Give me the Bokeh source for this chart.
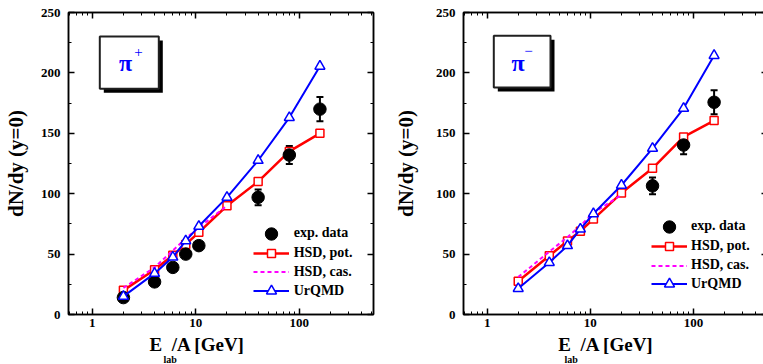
import math
from bokeh.plotting import figure
from bokeh.models import (Range1d, LinearAxis, LogAxis, LogTicker, SingleIntervalTicker,
                          Whisker, TeeHead, ColumnDataSource, Legend, LegendItem, Label,
                          BoxAnnotation, CustomJSTickFormatter, Title)
from bokeh.layouts import row
from bokeh.embed import file_html
from bokeh.resources import INLINE

# ---------------- data ----------------
energy = [2, 4, 6, 8, 10.7, 20, 40, 80, 158]
cas_energy = [2, 4, 6, 8, 10.7, 20]

pip_exp_e = [2, 4, 6, 8, 10.7, 40, 80, 158]
pip_exp = [14, 27, 39, 50, 57, 97, 132, 170]
pip_err = [2, 2, 2, 2, 2, 6.5, 7.5, 10]
pip_hsd_pot = [20, 37, 49, 58, 68, 90, 110, 135, 150]
pip_hsd_cas = [22, 39, 53, 63, 72, 90]
pip_urqmd = [15, 34, 47.5, 61, 73, 97, 127.5, 163, 205.5]

pim_exp_e = [40, 80, 158]
pim_exp = [106.5, 140.3, 175.7]
pim_err = [7, 7.6, 10]
pim_hsd_pot = [27.6, 48.6, 60.8, 69, 79, 100.5, 121, 147, 160.5]
pim_hsd_cas = [31, 52, 64, 73.5, 84, 99]
pim_urqmd = [21.5, 43, 57, 70.7, 83.4, 107, 137.6, 170.7, 214.4]

legend_labels = ["exp. data", "HSD, pot.", "HSD, cas.", "UrQMD"]
x_label_main = ["E", "/A [GeV]"]
x_label_sub = "lab"
y_label = "dN/dy (y=0)"
x_ticks = [1, 10, 100]

FONT = "Liberation Serif"
RED = "#ff0000"
BLUE = "#0000ff"
MAG = "#ff00ff"
NBSP = "\u00a0"

XMIN, XMAX = 0.59, 520
YMIN, YMAX = 0, 250
FH = 302


def style_axis(ax, show_labels=True, standoff=8):
    ax.axis_line_width = 1.5
    ax.axis_line_color = "black"
    ax.major_tick_in = 6
    ax.major_tick_out = 0
    ax.minor_tick_in = 3
    ax.minor_tick_out = 0
    ax.major_tick_line_width = 1.5
    ax.minor_tick_line_width = 1
    if show_labels:
        ax.major_label_text_font = FONT
        ax.major_label_text_font_style = "bold"
        ax.major_label_text_font_size = "13px"
        ax.major_label_text_color = "black"
        ax.major_label_standoff = standoff
    else:
        ax.formatter = CustomJSTickFormatter(code="return ''")
        ax.major_label_text_font_size = "1px"
        ax.major_label_standoff = 0


def make_panel(sign, exp_e, exp_v, exp_err, hsd_pot, hsd_cas, urqmd,
               bl, br, bt, bb, fw, layout):
    p = figure(x_axis_type="log", x_range=Range1d(XMIN, XMAX), y_range=Range1d(YMIN, YMAX),
               frame_width=fw, frame_height=FH,
               min_border_left=bl, min_border_right=br, min_border_top=bt, min_border_bottom=bb,
               output_backend="svg", toolbar_location=None)
    p.xgrid.visible = False
    p.ygrid.visible = False
    p.outline_line_color = "black"
    p.outline_line_width = 1.5
    p.background_fill_color = "white"
    p.border_fill_color = "white"

    xt = LogTicker(num_minor_ticks=10)
    yt = SingleIntervalTicker(interval=50, num_minor_ticks=2)

    p.xaxis.ticker = xt
    p.xaxis.major_label_overrides = {v: str(v) for v in x_ticks}
    style_axis(p.xaxis[0], True, 4)
    # main x label: "E" + gap for subscript + "/A [GeV]" (+ trailing pad to shift it left)
    p.xaxis.axis_label = (x_label_main[0] + NBSP * 2 + x_label_main[1]
                          + NBSP * layout["xlab_pad"])
    p.xaxis.axis_label_text_font = FONT
    p.xaxis.axis_label_text_font_style = "bold"
    p.xaxis.axis_label_text_font_size = "19px"
    p.xaxis.axis_label_text_color = "black"
    p.xaxis.axis_label_standoff = 4

    p.yaxis.ticker = yt
    style_axis(p.yaxis[0], True, 8)
    p.yaxis.axis_label = y_label
    p.yaxis.axis_label_text_font = FONT
    p.yaxis.axis_label_text_font_style = "bold"
    p.yaxis.axis_label_text_font_size = "21px"
    p.yaxis.axis_label_text_color = "black"
    p.yaxis.axis_label_standoff = layout["ylab_standoff"]

    top = LogAxis(ticker=xt)
    style_axis(top, False)
    p.add_layout(top, "above")
    right = LinearAxis(ticker=yt)
    style_axis(right, False)
    p.add_layout(right, "right")

    # subscript "lab" of the x label
    sub = Title(text=x_label_sub, align="left", offset=layout["sub_offset"], standoff=-12,
                text_font=FONT, text_font_style="bold", text_font_size="10px",
                text_color="black")
    p.add_layout(sub, "below")

    # data
    r_pot_l = p.line(energy, hsd_pot, line_color=RED, line_width=2.5)
    r_pot_m = p.scatter(energy, hsd_pot, marker="square", size=8, line_color=RED,
                        fill_color="white", line_width=1.5)
    r_cas = p.line(cas_energy, hsd_cas, line_color=MAG, line_width=2, line_dash="4 3")

    src = ColumnDataSource(dict(x=exp_e, y=exp_v,
                                lo=[v - e for v, e in zip(exp_v, exp_err)],
                                up=[v + e for v, e in zip(exp_v, exp_err)]))
    w = Whisker(base="x", lower="lo", upper="up", source=src, line_width=2, line_color="black",
                upper_head=TeeHead(size=7, line_width=2, line_color="black"),
                lower_head=TeeHead(size=7, line_width=2, line_color="black"))
    p.add_layout(w)
    r_exp = p.scatter("x", "y", source=src, marker="circle", size=12.5,
                      fill_color="black", line_color="black")

    r_urq_l = p.line(energy, urqmd, line_color=BLUE, line_width=2)
    r_urq_m = p.scatter(energy, urqmd, marker="triangle", size=10, line_color=BLUE,
                        fill_color="white", line_width=1.5)

    # layout helpers (absolute page pixels -> data)
    fl, ft = layout["fl"], layout["ft"]
    lx0, lx1 = math.log10(XMIN), math.log10(XMAX)

    def X(px):
        return 10 ** (lx0 + (px - fl) / fw * (lx1 - lx0))

    def Y(py):
        return YMIN + (ft + FH - py) / FH * (YMAX - YMIN)

    # legends: one per row
    rows = [
        (legend_labels[0], [r_exp], 31),
        (legend_labels[1], [r_pot_l, r_pot_m], 20),
        (legend_labels[2], [r_cas], 19),
        (legend_labels[3], [r_urq_l, r_urq_m], 25),
    ]
    for (lab, rends, h), cy in zip(rows, layout["leg_rows"]):
        lg = Legend(items=[LegendItem(label=lab, renderers=rends)],
                    location=(layout["leg_x"] - fl, (ft + FH - cy) - h / 2),
                    glyph_width=36, glyph_height=h, label_height=h,
                    label_standoff=layout["leg_standoff"], padding=0, spacing=0, margin=0,
                    border_line_color=None, background_fill_alpha=0,
                    label_text_font=FONT, label_text_font_style="bold",
                    label_text_font_size="14px", label_text_color="black")
        p.add_layout(lg)

    # particle box
    bx0, by0, bx1, by1 = layout["box"]
    p.add_layout(BoxAnnotation(left=X(bx0 + 4), right=X(bx1 + 4), top=Y(by0 + 4),
                               bottom=Y(by1 + 4), fill_color="black", fill_alpha=1,
                               line_color=None))
    p.add_layout(BoxAnnotation(left=X(bx0), right=X(bx1), top=Y(by0), bottom=Y(by1),
                               fill_color="white", fill_alpha=1, line_color="#202020",
                               line_alpha=1, line_width=2))
    pcx, pcy = layout["pi"]
    p.add_layout(Label(x=X(pcx), y=Y(pcy), text="\u03c0", text_font=FONT,
                       text_font_style="bold",
                       text_font_size="24px", text_color=BLUE, text_align="center",
                       text_baseline="middle"))
    scx, scy = layout["sup"]
    p.add_layout(Label(x=X(scx), y=Y(scy), text=sign, text_font=FONT,
                       text_font_size="15px", text_color=BLUE, text_align="center",
                       text_baseline="middle"))
    return p


left_layout = dict(fl=62, ft=12, leg_x=246.7,
                   leg_rows=[233.3, 253.3, 271.7, 290.7],
                   leg_standoff=5, box=(93.3, 36, 152.3, 88.3), pi=(119, 62.5),
                   sup=(132, 51), ylab_standoff=10, xlab_pad=10, sub_offset=95)
right_layout = dict(fl=457, ft=11, leg_x=645,
                    leg_rows=[225.3, 245, 264.3, 282.7],
                    leg_standoff=4, box=(487.3, 34.3, 544, 86), pi=(511.5, 61),
                    sup=(522, 49), ylab_standoff=15, xlab_pad=4, sub_offset=101)

# Bokeh's page template has no body margin: borders measured from the page edge
p1 = make_panel("+", pip_exp_e, pip_exp, pip_err, pip_hsd_pot, pip_hsd_cas, pip_urqmd,
                62, 13, 12, 50, 305, left_layout)
p2 = make_panel("\u2212", pim_exp_e, pim_exp, pim_err, pim_hsd_pot, pim_hsd_cas, pim_urqmd,
                77, 2, 11, 51, 304, right_layout)

layout = row(p1, p2)
open("out.html", "w").write(file_html(layout, INLINE))
